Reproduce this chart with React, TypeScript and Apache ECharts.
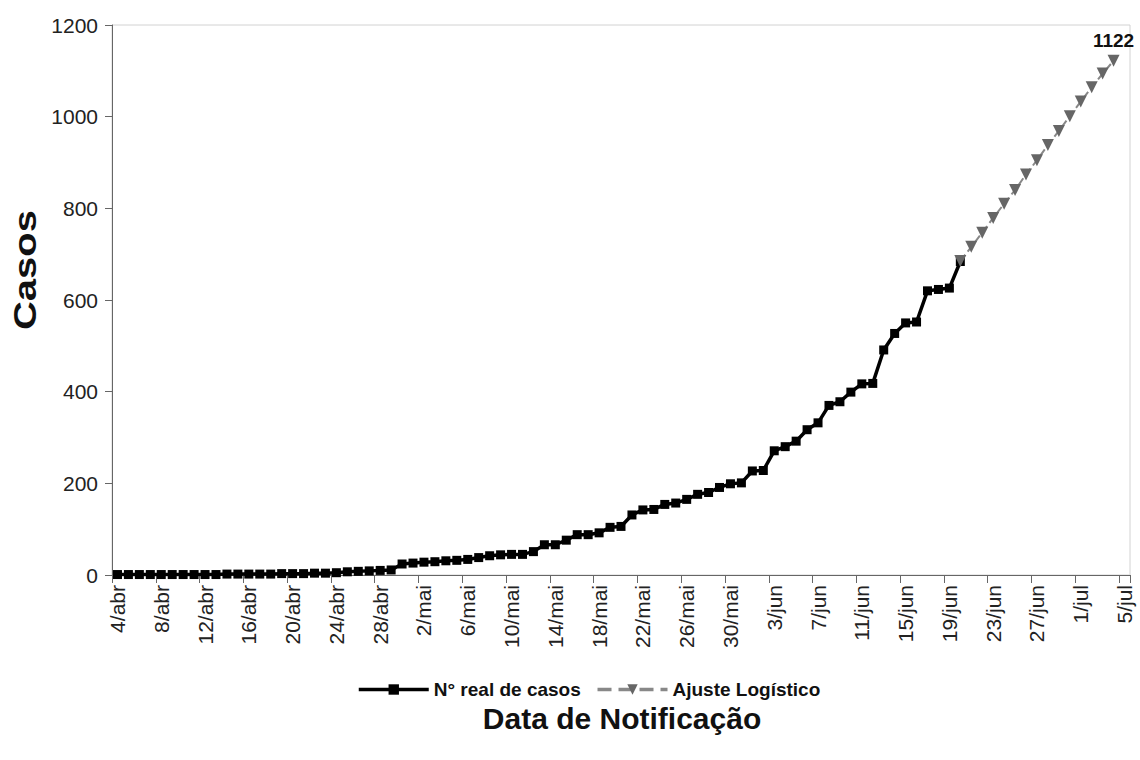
import React, { useEffect, useRef } from "react";
import * as echarts from "echarts";

const FONT = '"Liberation Sans", Arial, sans-serif';

// Category labels: one per day from 4/abr to 5/jul
const monthNames = ["abr", "mai", "jun", "jul"];
const monthFirstDay = [4, 1, 1, 1];
const monthLastDay = [30, 31, 30, 5];
const dates: string[] = [];
monthNames.forEach((m, mi) => {
  for (let d = monthFirstDay[mi]; d <= monthLastDay[mi]; d++) dates.push(`${d}/${m}`);
});

// Observed cumulative cases (from 4/abr, daily)
const realCases = [
  1, 1, 1, 1, 1, 1, 1, 1, 1, 1,
  2, 2, 2, 2, 2, 3, 3, 3, 4, 4,
  5, 7, 8, 9, 10, 11, 24, 26, 28, 29,
  31, 32, 34, 38, 42, 44, 45, 45, 51, 66,
  66, 76, 88, 88, 92, 104, 106, 131, 142, 143,
  154, 157, 165, 176, 180, 191, 199, 201, 227, 228,
  271, 280, 292, 317, 332, 370, 378, 399, 417, 418,
  491, 527, 550, 552, 620, 623, 626, 684,
];

// Logistic fit (from 20/jun, daily)
const fitStart = "20/jun";
const fitCases = [685, 716, 747, 779, 810, 840, 874, 905, 938, 969, 1001, 1033, 1064, 1094, 1122];

const yMin = 0;
const yMax = 1200;
const yStep = 200;

const realName = "N° real de casos";
const fitName = "Ajuste Logístico";
const xTitle = "Data de Notificação";
const yTitle = "Casos";

export default function App() {
  const ref = useRef<HTMLDivElement>(null);

  useEffect(() => {
    if (!ref.current) return;
    const chart = echarts.init(ref.current, null, { renderer: "svg" });
    const fitIdx = dates.indexOf(fitStart);
    const realData = dates.map((_, i) => (i < realCases.length ? realCases[i] : null));
    const fitData = dates.map((_, i) => {
      const k = i - fitIdx;
      if (k < 0 || k >= fitCases.length) return null;
      if (k === fitCases.length - 1) {
        return {
          value: fitCases[k],
          label: {
            show: true,
            position: "top",
            distance: 5,
            formatter: "{c}",
            fontFamily: FONT,
            fontWeight: "bold",
            fontSize: 19,
            color: "#111",
          },
        };
      }
      return fitCases[k];
    });

    chart.setOption({
      animation: false,
      backgroundColor: "#fff",
      grid: {
        left: 112,
        right: 10,
        top: 25,
        bottom: 185,
        show: true,
        borderColor: "#d2d2d2",
        borderWidth: 1,
        containLabel: false,
      },
      legend: {
        left: 352,
        top: 675,
        itemWidth: 70,
        itemHeight: 13,
        itemGap: 15,
        data: [realName, fitName],
        lineStyle: { width: 3.5 },
        textStyle: { fontFamily: FONT, fontWeight: "bold", fontSize: 19, color: "#111" },
      },
      xAxis: {
        type: "category",
        data: dates,
        boundaryGap: true,
        axisLine: { show: true, lineStyle: { color: "#666", width: 1 } },
        axisTick: {
          show: true,
          alignWithLabel: false,
          interval: (i: number) => i % 4 === 0,
          length: 8,
          lineStyle: { color: "#666" },
        },
        axisLabel: {
          interval: (i: number) => i % 4 === 0,
          rotate: 90,
          margin: 10,
          fontFamily: FONT,
          fontSize: 21,
          color: "#222",
        },
        splitLine: { show: false },
      },
      yAxis: {
        type: "value",
        min: yMin,
        max: yMax,
        interval: yStep,
        axisLine: { show: true, lineStyle: { color: "#666", width: 1 } },
        axisTick: { show: true, length: 7, lineStyle: { color: "#666" } },
        axisLabel: {
          margin: 14,
          fontFamily: FONT,
          fontSize: 21,
          color: "#222",
          formatter: (v: number) => String(v),
        },
        splitLine: { show: false },
      },
      graphic: [
        {
          type: "text",
          x: 25,
          y: 270,
          rotation: Math.PI / 2,
          scaleX: 1.25,
          style: {
            text: yTitle,
            font: `bold 32px ${FONT}`,
            fill: "#111",
            align: "center",
            verticalAlign: "middle",
            textAlign: "center",
            textVerticalAlign: "middle",
          },
        },
        {
          type: "text",
          x: 622,
          y: 718,
          style: {
            text: xTitle,
            font: `bold 30px ${FONT}`,
            fill: "#111",
            align: "center",
            verticalAlign: "middle",
            textAlign: "center",
            textVerticalAlign: "middle",
          },
        },
      ],
      series: [
        {
          name: realName,
          type: "line",
          data: realData,
          symbol: "rect",
          symbolSize: 9,
          showAllSymbol: true,
          itemStyle: { color: "#000" },
          lineStyle: { color: "#000", width: 3.5 },
          z: 2,
        },
        {
          name: fitName,
          type: "line",
          data: fitData,
          symbol: "triangle",
          symbolRotate: 180,
          symbolSize: 12,
          showAllSymbol: true,
          itemStyle: { color: "#666" },
          lineStyle: { color: "#888", width: 2, type: "dashed" },
          z: 3,
        },
      ],
    });
    return () => chart.dispose();
  }, []);

  return (
    <div
      ref={ref}
      style={{ position: "absolute", left: 0, top: 0, width: 1140, height: 760, background: "#fff" }}
    />
  );
}
